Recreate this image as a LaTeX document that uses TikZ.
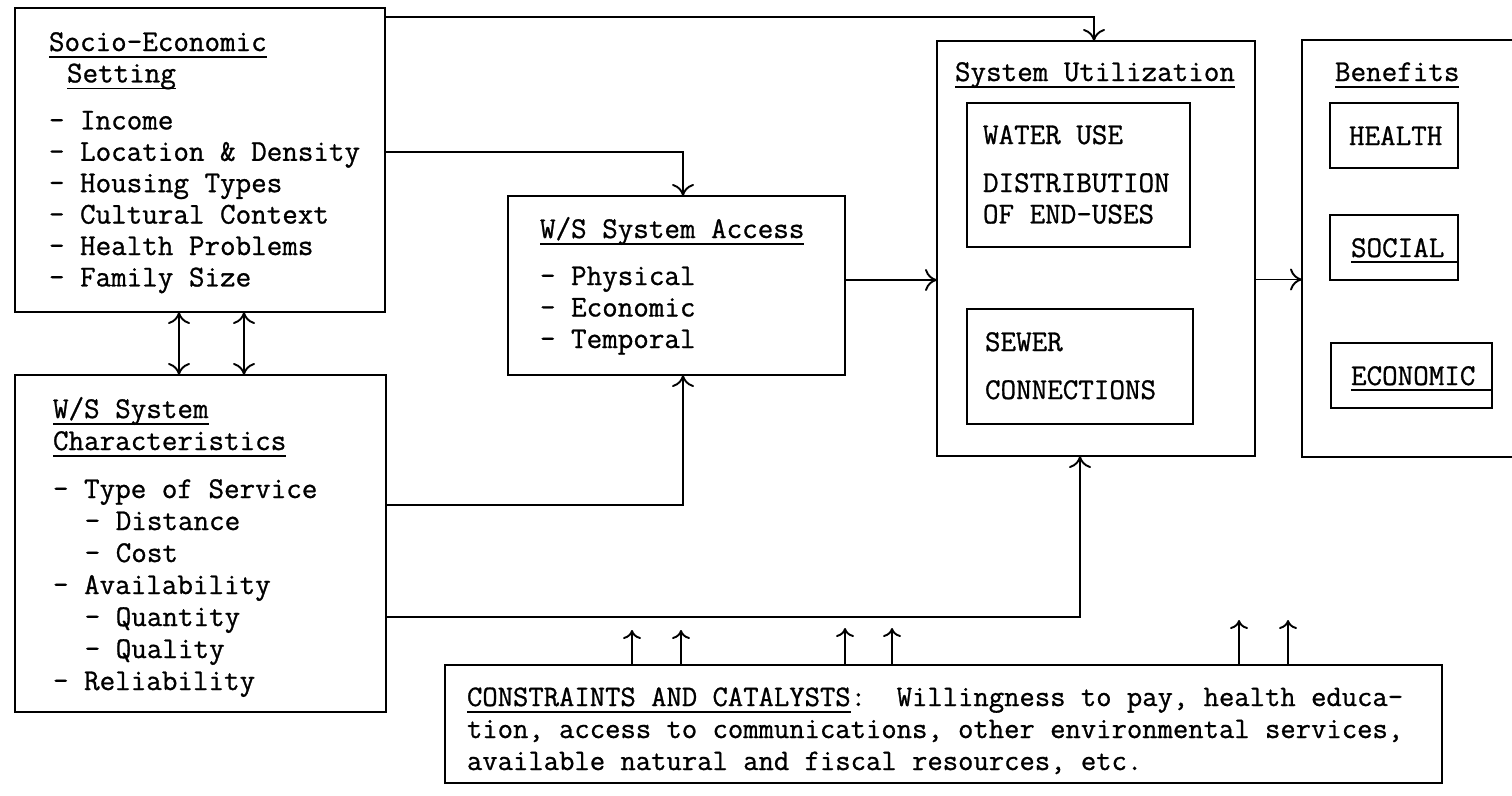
\documentclass[tikz,border=0pt]{standalone}
\usepackage{fontspec}
\newfontfamily\tw{Latin Modern Mono}[FakeBold=0.9]
\usetikzlibrary{arrows.meta,calc}
\newcommand\hdr[1]{\setbox0=\hbox{#1}\rlap{\rule[-7pt]{\wd0}{1.7pt}}\box0}
\newcommand\lines[2][31.4pt]{\vtop{\baselineskip=#1\lineskiplimit=-100pt\lineskip=0pt\halign{##\hfil\cr#2\crcr}}}
\begin{document}
\begin{tikzpicture}[x=1pt,y=-1pt,line width=1.9pt,
  box/.style={draw,anchor=north west,inner sep=0pt,outer sep=0pt},
  txt/.style={anchor=base west,inner sep=0pt,outer sep=0pt,font=\fontsize{30.2pt}{31.4pt}\selectfont\tw},
  smalltxt/.style={anchor=base west,inner sep=0pt,outer sep=0pt,font=\fontsize{29.8pt}{32pt}\selectfont\tw},
  arr/.style={-{To[length=12pt,width=22pt]}},
  arrtwo/.style={{To[length=12pt,width=22pt]}-{To[length=12pt,width=22pt]}},
  uarr/.style={-{To[length=9pt,width=18pt]}}]
\useasboundingbox (0,0) rectangle (1512,795);
% boxes
\node[box,minimum width=370pt,minimum height=304pt] (se) at (15,8) {};
\node[box,minimum width=371pt,minimum height=337pt] (ch) at (15,375) {};
\node[box,minimum width=337pt,minimum height=179pt] (acc) at (508,196) {};
\node[box,minimum width=318pt,minimum height=415pt] (su) at (937,41) {};
\node[box,minimum width=240pt,minimum height=417pt] (ben) at (1302,40) {};
\node[box,minimum width=223pt,minimum height=144pt] (wu) at (967,103) {};
\node[box,minimum width=226pt,minimum height=115pt] (sw) at (967,309) {};
\node[box,minimum width=128pt,minimum height=65pt] (he) at (1330,103) {};
\node[box,minimum width=128pt,minimum height=65pt] (so) at (1330,215) {};
\node[box,minimum width=161pt,minimum height=65pt] (ec) at (1331,343) {};
\node[box,minimum width=997pt,minimum height=118pt] (cc) at (445,665) {};
% texts
\node[txt] (set) at (49,51) {\lines{\hdr{Socio-Economic}\cr\hspace*{18pt}\hdr{Setting}\cr\noalign{\vskip15.6pt}- Income\cr- Location \& Density\cr- Housing Types\cr- Cultural Context\cr- Health Problems\cr- Family Size}};
\node[txt] (cht) at (53,418) {\lines[32pt]{\hdr{W/S System}\cr\hdr{Characteristics}\cr\noalign{\vskip16pt}- Type of Service\cr\hspace*{31.7pt}- Distance\cr\hspace*{31.7pt}- Cost\cr- Availability\cr\hspace*{31.7pt}- Quantity\cr\hspace*{31.7pt}- Quality\cr- Reliability}};
\node[txt] (acct) at (540,238) {\lines[31.5pt]{\hdr{W/S System Access}\cr\noalign{\vskip15.5pt}- Physical\cr- Economic\cr- Temporal}};
\node[txt] (sut) at (955,81) {\hdr{System Utilization}};
\node[txt] (bent) at (1335,81) {\hdr{Benefits}};
\node[txt] (wut) at (983,144) {\lines{WATER USE\cr\noalign{\vskip16.6pt}DISTRIBUTION\cr OF END-USES}};
\node[txt] (swt) at (985,351) {\lines{SEWER\cr\noalign{\vskip16.6pt}CONNECTIONS}};
\node[txt] (het) at (1349,145) {HEALTH};
\node[txt] (sot) at (1351,257) {SOCIAL};
\node[txt] (ect) at (1351,385) {ECONOMIC};
\draw[line width=1.7pt] ([yshift=-5pt]sot.base west) -- ([yshift=-5pt]sot.base west -| so.east);
\draw[line width=1.7pt] ([yshift=-5pt]ect.base west) -- ([yshift=-5pt]ect.base west -| ec.east);
\node[smalltxt] (cct) at (467,706) {\lines[32pt]{\hdr{CONSTRAINTS AND CATALYSTS}:~~Willingness to pay, health educa-\cr tion, access to communications, other environmental services,\cr available natural and fiscal resources, etc.}};
% connectors
\draw[arr] ([yshift=-9pt]se.north east) -| ([xshift=-2pt]su.north);
\draw[arr] ([yshift=8pt]se.east) -| ([xshift=6.5pt]acc.north);
\draw[arrtwo] ([xshift=164pt]se.south west) -- ([xshift=164pt]ch.north west);
\draw[arrtwo] ([xshift=229pt]se.south west) -- ([xshift=229pt]ch.north west);
\draw[arr] ([yshift=38.5pt]ch.east) -| ([xshift=6.5pt]acc.south);
\draw[arr] ([yshift=-73.5pt]ch.east) -| ([xshift=-16pt]su.south);
\draw[arr] ([yshift=5.5pt]acc.east) -- ([yshift=5.5pt]acc.east -| su.west);
\draw[arr] ([yshift=-31pt]su.east) -- ([yshift=-31pt]su.east -| ben.west);
\draw[uarr] ([xshift=187pt]cc.north west) -- ++(0,-35);
\draw[uarr] ([xshift=236pt]cc.north west) -- ++(0,-35);
\draw[uarr] ([xshift=400pt]cc.north west) -- ++(0,-37);
\draw[uarr] ([xshift=447pt]cc.north west) -- ++(0,-37);
\draw[uarr] ([xshift=794pt]cc.north west) -- ++(0,-45);
\draw[uarr] ([xshift=843pt]cc.north west) -- ++(0,-45);
\end{tikzpicture}
\end{document}
